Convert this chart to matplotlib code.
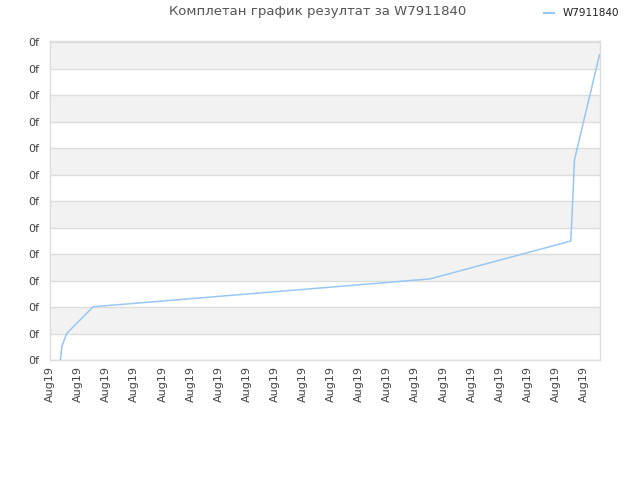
import matplotlib
matplotlib.use("Agg")
import matplotlib.pyplot as plt
from matplotlib.lines import Line2D

title = "Комплетан график резултат за W7911840"
series_name = "W7911840"
x_vals = [0.37, 0.42, 0.59, 1.54, 13.52, 18.53, 18.58, 18.66, 19.55]
y_vals = [0.0, 0.50, 1.0, 2.01, 3.06, 4.49, 5.6, 7.55, 11.51]
x_ticks = list(range(20))
x_labels = ["Aug19"] * 20
y_ticks = list(range(13))
y_labels = ["0f"] * 13

fig = plt.figure(figsize=(6.4, 4.8), dpi=100)
ax = fig.add_axes([50/640, 0.25, 550/640, (360-41)/480])
ax.set_xlim(0, 19.57)
ax.set_ylim(0, 12.04)

for i in range(1, 12, 2):
    ax.axhspan(i, i + 1, color="#f2f2f2", zorder=0, lw=0)
for t in y_ticks:
    ax.axhline(t, color="#dddddd", lw=1, zorder=1)

ax.plot(x_vals, y_vals, color="#99c6f3", lw=1.1, zorder=3)

ax.set_xticks(x_ticks)
ax.set_xticklabels(x_labels, rotation=90, fontsize=8, color="#444444")
ax.set_yticks(y_ticks)
ax.set_yticklabels(y_labels, fontsize=8, color="#444444")
ax.tick_params(length=0, pad=8)
ax.tick_params(axis="x", pad=4)
for s in ax.spines.values():
    s.set_color("#dddddd")
    s.set_linewidth(1)

fig.text(318/640, 1 - 12/480, title, ha="center", va="center", fontsize=9.5, color="#555555")
fig.lines.append(Line2D([544/640, 554/640], [1 - 13/480, 1 - 13/480], color="#99c6f3", lw=1.5, transform=fig.transFigure))
fig.text(563/640, 1 - 13/480, series_name, ha="left", va="center", fontsize=7.5, color="#222222")

fig.savefig("out.png", dpi=100)
